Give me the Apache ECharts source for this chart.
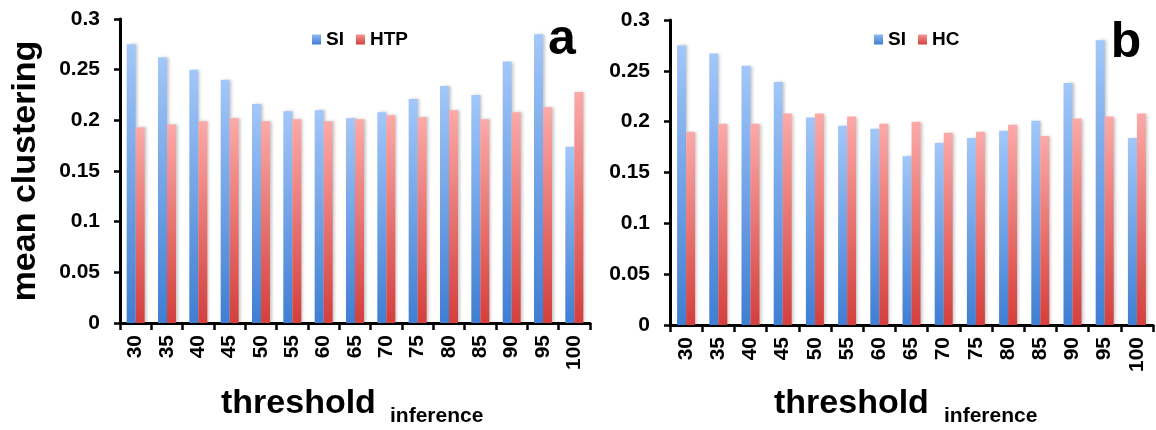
<!DOCTYPE html>
<html>
<head>
<meta charset="utf-8">
<script src="https://cdn.jsdelivr.net/npm/echarts@6/dist/echarts.min.js"></script>
<style>html,body{margin:0;padding:0;background:#fff;}#c{width:1156px;height:430px;}</style>
</head>
<body>
<div id="c"></div>
<script>
const categories = ['30','35','40','45','50','55','60','65','70','75','80','85','90','95','100'];
const siA  = [0.275,0.262,0.250,0.240,0.216,0.209,0.210,0.202,0.208,0.221,0.234,0.225,0.258,0.285,0.174];
const htpA = [0.193,0.196,0.199,0.202,0.199,0.201,0.199,0.201,0.205,0.203,0.210,0.201,0.208,0.213,0.228];
const siB  = [0.275,0.267,0.255,0.239,0.204,0.196,0.193,0.166,0.179,0.184,0.191,0.201,0.238,0.280,0.184];
const hcB  = [0.190,0.198,0.198,0.208,0.208,0.205,0.198,0.200,0.189,0.190,0.197,0.186,0.203,0.205,0.208];
const yTicks = [0, 0.05, 0.1, 0.15, 0.2, 0.25, 0.3];

const FONT = '"Liberation Sans", Arial, sans-serif';
const blueGrad = new echarts.graphic.LinearGradient(0,0,0,1,[{offset:0,color:'#a3c7f9'},{offset:1,color:'#3f7ed3'}]);
const redGrad = new echarts.graphic.LinearGradient(0,0,0,1,[{offset:0,color:'#fbaaa8'},{offset:1,color:'#d33f3d'}]);
const legBlue = new echarts.graphic.LinearGradient(0,0,0,1,[{offset:0,color:'#8db8f2'},{offset:1,color:'#3f7ed3'}]);
const legRed = new echarts.graphic.LinearGradient(0,0,0,1,[{offset:0,color:'#f59694'},{offset:1,color:'#d33f3d'}]);

function xAxisCfg(gi){
  return {
    type:'category', gridIndex:gi, data:categories,
    axisLine:{lineStyle:{color:'#000',width:3}},
    axisTick:{show:true,length:7,lineStyle:{color:'#000',width:2.5}},
    axisLabel:{rotate:90,margin:12,color:'#000',fontFamily:FONT,fontWeight:'bold',fontSize:21}
  };
}
function yAxisCfg(gi){
  return {
    type:'value', gridIndex:gi, min:yTicks[0], max:yTicks[yTicks.length-1], interval:yTicks[1]-yTicks[0],
    axisLine:{show:true,lineStyle:{color:'#000',width:3}},
    axisTick:{show:true,length:6,lineStyle:{color:'#000',width:2.5}},
    splitLine:{show:false},
    axisLabel:{margin:20,color:'#000',fontFamily:FONT,fontWeight:'bold',fontSize:21,
      formatter:v=>String(+v.toFixed(2))}
  };
}
function barSeries(name, data, gi, color){
  return {
    type:'bar', name:name, data:data, xAxisIndex:gi, yAxisIndex:gi,
    barWidth:9, barGap:'0%', barCategoryGap:'42%',
    itemStyle:{color:color, shadowColor:'rgba(0,0,0,0.22)', shadowBlur:3, shadowOffsetX:2},
    emphasis:{disabled:true}
  };
}
const legendText = {color:'#000',fontFamily:FONT,fontWeight:'bold',fontSize:19};
const chart = echarts.init(document.getElementById('c'), null, {renderer:'canvas'});
chart.setOption({
  backgroundColor:'#fff',
  animation:false,
  grid:[
    {left:120, right:566, top:19, bottom:107},
    {left:670, right:3, top:20, bottom:105}
  ],
  xAxis:[xAxisCfg(0), xAxisCfg(1)],
  yAxis:[yAxisCfg(0), yAxisCfg(1)],
  legend:[
    {left:307, top:25, itemWidth:9, itemHeight:10, itemGap:12, icon:'rect', textStyle:legendText,
     data:[{name:'SI',itemStyle:{color:legBlue}},{name:'HTP',itemStyle:{color:legRed}}], selectedMode:false},
    {left:869, top:25, itemWidth:9, itemHeight:10, itemGap:12, icon:'rect', textStyle:legendText,
     data:[{name:'SI',itemStyle:{color:legBlue}},{name:'HC',itemStyle:{color:legRed}}], selectedMode:false}
  ],
  series:[
    barSeries('SI', siA, 0, blueGrad),
    barSeries('HTP', htpA, 0, redGrad),
    barSeries('SI', siB, 1, blueGrad),
    barSeries('HC', hcB, 1, redGrad)
  ],
  graphic:[
    {type:'text', x:26, y:171, rotation:Math.PI/2,
     style:{text:'mean clustering', fill:'#000', font:'bold 34px '+FONT, textAlign:'center', textVerticalAlign:'middle'}},
    {type:'text', x:221, y:404, style:{text:'threshold', fill:'#000', font:'bold 34px '+FONT, textAlign:'left', textVerticalAlign:'middle'}},
    {type:'text', x:390, y:416, style:{text:'inference', fill:'#000', font:'bold 21px '+FONT, textAlign:'left', textVerticalAlign:'middle'}},
    {type:'text', x:774, y:404, style:{text:'threshold', fill:'#000', font:'bold 34px '+FONT, textAlign:'left', textVerticalAlign:'middle'}},
    {type:'text', x:944, y:416, style:{text:'inference', fill:'#000', font:'bold 21px '+FONT, textAlign:'left', textVerticalAlign:'middle'}},
    {type:'text', x:562, y:40, style:{text:'a', fill:'#000', font:'bold 50px '+FONT, textAlign:'center', textVerticalAlign:'middle'}},
    {type:'text', x:1126, y:43, style:{text:'b', fill:'#000', font:'bold 50px '+FONT, textAlign:'center', textVerticalAlign:'middle'}}
  ]
});
</script>
</body>
</html>
